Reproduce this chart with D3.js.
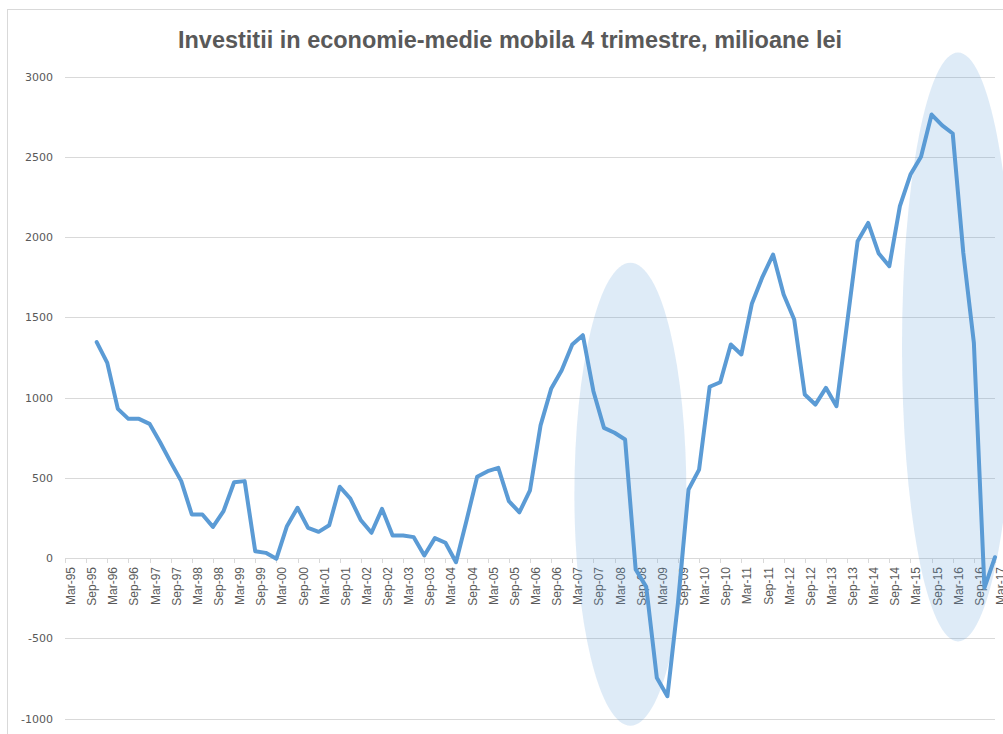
<!DOCTYPE html>
<html>
<head>
<meta charset="utf-8">
<script src="https://cdn.jsdelivr.net/npm/d3@7"></script>
<style>
  body { margin: 0; background: #fff; }
  svg { display: block; }
</style>
</head>
<body>
<div id="chart"></div>
<script>
// quarterly categories Mar-95 ... Mar-17
var years = ["95","96","97","98","99","00","01","02","03","04","05","06","07","08","09","10","11","12","13","14","15","16","17"];
var months = ["Mar","Jun","Sep","Dec"];

var tickLabels = ["Mar-95","Sep-95","Mar-96","Sep-96","Mar-97","Sep-97","Mar-98","Sep-98","Mar-99","Sep-99",
  "Mar-00","Sep-00","Mar-01","Sep-01","Mar-02","Sep-02","Mar-03","Sep-03","Mar-04","Sep-04",
  "Mar-05","Sep-05","Mar-06","Sep-06","Mar-07","Sep-07","Mar-08","Sep-08","Mar-09","Sep-09",
  "Mar-10","Sep-10","Mar-11","Sep-11","Mar-12","Sep-12","Mar-13","Sep-13","Mar-14","Sep-14",
  "Mar-15","Sep-15","Mar-16","Sep-16","Mar-17"];

var yTicks = [-1000, -500, 0, 500, 1000, 1500, 2000, 2500, 3000];

// series starts at Dec-95
var firstQuarter = "Dec-95";
var investitii = [1345, 1216, 929, 867, 867, 836, 721, 597, 479, 271,
  271, 194, 292, 472, 479, 42, 32, -5, 198, 313,
  188, 163, 204, 444, 370, 235, 157, 306, 140, 140,
  130, 16, 124, 95, -26, 235, 506, 541, 562, 354,
  285, 422, 826, 1054, 1170, 1330, 1388, 1039, 811, 780,
  738, -72, -180, -746, -861, -280, 427, 551, 1067, 1095,
  1330, 1268, 1586, 1752, 1891, 1642, 1486, 1019, 956, 1060,
  946, 1460, 1974, 2088, 1897, 1818, 2192, 2389, 2500, 2763,
  2695, 2645, 1902, 1341, -186, 5];

// highlighted periods (centre quarter, value range)
var highlightCenters = ["Sep-08", "Jun-16"];
var highlightRanges = [[-1045, 1840], [-520, 3150]];

var quarters = [];
years.forEach(function(y) {
  months.forEach(function(m) {
    if (y === "17" && m !== "Mar") return;
    quarters.push(m + "-" + y);
  });
});

var start = quarters.indexOf(firstQuarter);
var data = investitii.map(function(v, i) {
  return { q: quarters[start + i], value: v };
});

var width = 1003, height = 734;

var svg = d3.select("#chart")
  .append("svg")
  .attr("width", width)
  .attr("height", height);

// chart border
svg.append("rect")
  .attr("x", 7.5).attr("y", 9.5)
  .attr("width", 1100).attr("height", 800)
  .attr("fill", "none")
  .attr("stroke", "#d9d9d9");

var x = d3.scalePoint()
  .domain(quarters)
  .range([65, 995]);

var y = d3.scaleLinear()
  .domain([-1000, 3000])
  .range([718.5, 76.5]);

// title
svg.append("text")
  .attr("x", 510).attr("y", 48)
  .attr("text-anchor", "middle")
  .attr("textLength", 664)
  .attr("lengthAdjust", "spacingAndGlyphs")
  .style("font-family", "Liberation Sans, Arial, sans-serif")
  .style("font-weight", "bold")
  .style("font-size", "23px")
  .attr("fill", "#595959")
  .text("Investitii in economie-medie mobila 4 trimestre, milioane lei");

// gridlines
svg.append("g")
  .selectAll("line")
  .data(yTicks)
  .enter().append("line")
  .attr("x1", 65).attr("x2", 995)
  .attr("y1", function(d) { return Math.round(y(d)) + 0.5; })
  .attr("y2", function(d) { return Math.round(y(d)) + 0.5; })
  .attr("stroke", "#d9d9d9")
  .attr("stroke-width", 1);

// y labels
svg.append("g")
  .selectAll("text")
  .data(yTicks)
  .enter().append("text")
  .attr("x", 53)
  .attr("y", function(d) { return y(d) + 4; })
  .attr("text-anchor", "end")
  .style("font-family", "DejaVu Sans, sans-serif")
  .style("font-size", "11px")
  .attr("fill", "#595959")
  .text(function(d) { return d; });

// x axis ticks and rotated labels
var xAxis = svg.append("g");
xAxis.selectAll("line")
  .data(tickLabels)
  .enter().append("line")
  .attr("x1", function(d) { return Math.round(x(d)) + 0.5; })
  .attr("x2", function(d) { return Math.round(x(d)) + 0.5; })
  .attr("y1", y(0)).attr("y2", y(0) + 5)
  .attr("stroke", "#d9d9d9");

xAxis.selectAll("text")
  .data(tickLabels)
  .enter().append("text")
  .attr("transform", function(d) {
    return "translate(" + (x(d) + 10) + "," + 567 + ") rotate(-90)";
  })
  .attr("text-anchor", "end")
  .style("font-family", "Liberation Sans, Arial, sans-serif")
  .style("font-size", "12px")
  .attr("fill", "#595959")
  .text(function(d) { return d; });

// the series
var line = d3.line()
  .x(function(d) { return x(d.q); })
  .y(function(d) { return y(d.value); });

svg.append("path")
  .datum(data)
  .attr("d", line)
  .attr("fill", "none")
  .attr("stroke", "#5b9bd5")
  .attr("stroke-width", 4)
  .attr("stroke-linejoin", "round")
  .attr("stroke-linecap", "round");

// ellipses marking the two drops
var step = x.step();
svg.append("g")
  .selectAll("ellipse")
  .data(highlightCenters)
  .enter().append("ellipse")
  .attr("cx", function(d) { return x(d) - step * 0.5; })
  .attr("cy", function(d, i) { return (y(highlightRanges[i][0]) + y(highlightRanges[i][1])) / 2; })
  .attr("rx", step * 5.3)
  .attr("ry", function(d, i) { return (y(highlightRanges[i][0]) - y(highlightRanges[i][1])) / 2; })
  .attr("fill", "#5b9bd5")
  .attr("fill-opacity", 0.2);
</script>
</body>
</html>
